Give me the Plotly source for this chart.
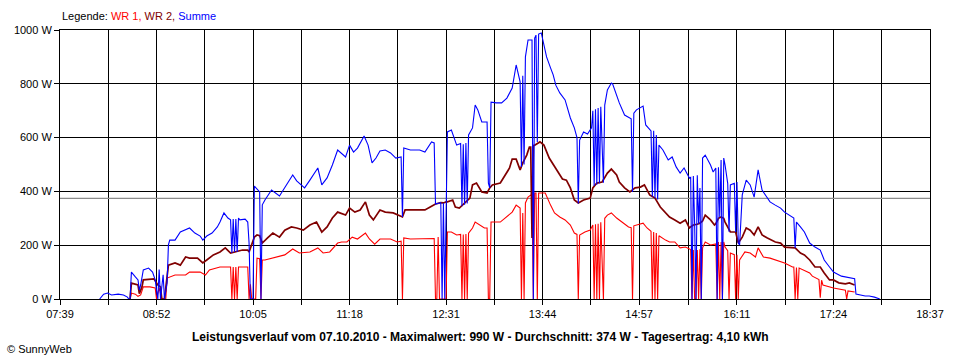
import plotly.graph_objects as go

# ---------------- data ----------------
tick_labels = ["07:39", "08:52", "10:05", "11:18", "12:31", "13:44", "14:57", "16:11", "17:24", "18:37"]
y_ticks = [0, 200, 400, 600, 800, 1000]
average_w = 374

wr1_times = [
    "08:32", "08:33", "08:36", "08:38", "08:40", "08:42", "08:47", "08:51",
    "08:52", "08:54", "08:56", "08:59", "09:00", "09:06", "09:14", "09:17",
    "09:25", "09:29", "09:32", "09:40", "09:48", "09:49", "09:50", "09:51",
    "09:52", "09:53", "09:54", "10:01", "10:02", "10:03", "10:04", "10:07",
    "10:08", "10:10", "10:11", "10:12", "10:14", "10:22", "10:29", "10:35",
    "10:40", "10:48", "10:54", "10:58", "11:03", "11:09", "11:12", "11:16",
    "11:20", "11:24", "11:30", "11:33", "11:37", "11:41", "11:49", "11:54",
    "11:57", "11:58", "11:59", "12:04", "12:19", "12:22", "12:23", "12:24",
    "12:25", "12:26", "12:31", "12:32", "12:35", "12:39", "12:42", "12:43",
    "12:44", "12:45", "12:46", "12:47", "12:48", "12:51", "12:53", "12:57",
    "13:00", "13:02", "13:03", "13:04", "13:05", "13:12", "13:17", "13:21",
    "13:24", "13:27", "13:28", "13:29", "13:30", "13:31", "13:33", "13:36",
    "13:37", "13:38", "13:39", "13:40", "13:41", "13:46", "13:50", "13:53",
    "13:57", "14:01", "14:05", "14:08", "14:10", "14:11", "14:12", "14:16",
    "14:20", "14:22", "14:23", "14:24", "14:25", "14:26", "14:27", "14:28",
    "14:30", "14:31", "14:33", "14:36", "14:40", "14:44", "14:49", "14:51",
    "14:52", "14:53", "15:00", "15:03", "15:06", "15:07", "15:08", "15:09",
    "15:10", "15:11", "15:12", "15:17", "15:20", "15:24", "15:28", "15:32",
    "15:36", "15:37", "15:38", "15:39", "15:40", "15:41", "15:42", "15:43",
    "15:44", "15:45", "15:47", "15:51", "15:55", "15:56", "15:57", "15:58",
    "15:59", "16:00", "16:01", "16:02", "16:04", "16:05", "16:06", "16:09",
    "16:10", "16:11", "16:12", "16:13", "16:17", "16:21", "16:25", "16:27",
    "16:31", "16:36", "16:44", "16:47", "16:53", "16:54", "16:55", "16:56",
    "16:57", "16:58", "17:06", "17:08", "17:13", "17:14", "17:15", "17:16",
    "17:24", "17:33", "17:34", "17:35", "17:40",
]
wr1_values = [
    0, 22, 18, 10, 15, 45, 45, 41,
    0, 41, 0, 0, 78, 89, 89, 100,
    100, 89, 108, 119, 119, 0, 119, 0,
    119, 0, 119, 119, 0, 55, 0, 0,
    152, 150, 0, 145, 145, 156, 164, 186,
    171, 175, 190, 171, 175, 208, 212, 212,
    230, 223, 245, 223, 204, 223, 223, 212,
    215, 0, 227, 223, 223, 225, 0, 0,
    230, 0, 0, 249, 249, 238, 240, 0,
    240, 0, 242, 0, 245, 264, 286, 275,
    264, 264, 0, 0, 286, 286, 305, 323,
    349, 338, 0, 320, 0, 357, 379, 390,
    0, 394, 394, 0, 394, 394, 349, 320,
    305, 294, 275, 245, 240, 0, 238, 249,
    256, 275, 0, 278, 0, 280, 0, 285,
    0, 300, 312, 320, 301, 286, 268, 265,
    0, 272, 282, 264, 252, 0, 249, 0,
    245, 0, 235, 219, 212, 212, 190, 193,
    184, 0, 182, 0, 0, 182, 0, 185,
    0, 190, 212, 201, 205, 0, 212, 0,
    212, 0, 212, 193, 180, 0, 171, 165,
    0, 164, 0, 145, 175, 171, 156, 190,
    156, 152, 138, 134, 119, 119, 0, 117,
    0, 115, 97, 85, 72, 5, 70, 52,
    41, 33, 0, 30, 26,
]

wr2_times = [
    "08:32", "08:33", "08:38", "08:39", "08:41", "08:42", "08:50", "08:53",
    "08:55", "08:56", "08:58", "08:59", "09:01", "09:06", "09:10", "09:14",
    "09:17", "09:23", "09:27", "09:30", "09:35", "09:40", "09:44", "09:48",
    "09:52", "09:57", "10:01", "10:02", "10:06", "10:08",
    "10:10", "10:12", "10:16", "10:20", "10:25", "10:29", "10:34",
    "10:38", "10:43", "10:48", "10:53", "10:57", "11:01", "11:05", "11:09",
    "11:15", "11:18", "11:22", "11:26", "11:30", "11:33", "11:36", "11:41",
    "11:45", "11:51", "11:55", "11:58", "12:00", "12:15", "12:19", "12:23",
    "12:27", "12:29", "12:31", "12:32", "12:36", "12:38",
    "12:41", "12:45", "12:49", "12:51", "12:54", "12:58", "13:02", "13:04",
    "13:06", "13:12", "13:15", "13:19", "13:21", "13:24", "13:27", "13:29",
    "13:32", "13:34", "13:35", "13:36", "13:37", "13:38", "13:42", "13:45",
    "13:49", "13:53", "13:57", "13:59", "14:02", "14:05", "14:08", "14:11",
    "14:15", "14:20", "14:22", "14:25", "14:29", "14:33", "14:36", "14:40",
    "14:42", "14:46", "14:50", "14:54", "14:58", "15:01", "15:05", "15:09",
    "15:13", "15:17", "15:20", "15:24", "15:28", "15:32", "15:35", "15:36",
    "15:38", "15:41", "15:43", "15:45", "15:47",
    "15:51", "15:54", "15:55", "15:57", "15:59", "16:01",
    "16:02", "16:06", "16:10", "16:12", "16:15", "16:18", "16:21", "16:24",
    "16:27", "16:30", "16:34", "16:40", "16:44", "16:47", "16:55", "16:59",
    "17:02", "17:06", "17:10", "17:14", "17:17", "17:21", "17:24", "17:28",
    "17:33", "17:36", "17:40",
]
wr2_values = [
    0, 59, 52, 20, 45, 71, 75, 52,
    45, 0, 0, 40, 126, 134, 126, 156,
    152, 152, 134, 145, 164, 175, 190, 171,
    175, 182, 182, 175, 230, 238,
    235, 208, 227, 245, 230, 256, 268,
    264, 256, 275, 286, 249, 268, 301, 323,
    312, 338, 323, 331, 361, 312, 294, 331,
    323, 320, 312, 305, 331, 331, 342, 353,
    358, 357, 361, 361, 368, 342,
    338, 357, 375, 424, 431, 398, 394, 413,
    424, 431, 453, 487, 520, 520, 480, 506,
    535, 565, 565, 227, 570, 572, 584, 572,
    524, 491, 461, 446, 442, 413, 368, 357,
    368, 375, 413, 431, 435, 468, 483, 461,
    435, 413, 398, 413, 416, 424, 387, 375,
    342, 323, 305, 294, 282, 294, 264, 268,
    275, 278, 282, 290, 312,
    294, 275, 280, 300, 305, 300,
    286, 249, 249, 208, 230, 264, 256, 238,
    268, 238, 227, 212, 208, 193, 190, 171,
    164, 145, 119, 119, 97, 71, 71, 60,
    56, 60, 52,
]

summe_times = [
    "08:09", "08:12", "08:15", "08:18", "08:23", "08:27", "08:30", "08:31",
    "08:32", "08:33", "08:36", "08:38", "08:39", "08:40", "08:42", "08:46",
    "08:49", "08:51", "08:52", "08:53", "08:54", "08:55", "08:57", "08:58",
    "09:00", "09:01", "09:02", "09:06", "09:10", "09:14", "09:17", "09:21",
    "09:25", "09:27", "09:30", "09:34", "09:38", "09:40", "09:43", "09:46",
    "09:48", "09:49", "09:50", "09:51", "09:52", "09:53", "09:54", "09:55",
    "09:59", "10:01", "10:02", "10:03", "10:05", "10:06", "10:08", "10:10",
    "10:11", "10:12", "10:14", "10:19", "10:25", "10:29", "10:35", "10:38",
    "10:44", "10:48", "10:54", "10:57", "11:01", "11:05", "11:09", "11:15",
    "11:18", "11:21", "11:24", "11:29", "11:32", "11:35", "11:38", "11:41",
    "11:45", "11:49", "11:53", "11:57", "11:58", "11:59", "12:04", "12:11",
    "12:15", "12:20", "12:22", "12:23", "12:27", "12:28", "12:29", "12:30",
    "12:31", "12:32", "12:35", "12:39", "12:42", "12:43", "12:44", "12:45",
    "12:46", "12:47", "12:48", "12:51", "12:53", "12:55", "12:58", "13:02",
    "13:03", "13:04", "13:05", "13:09", "13:13", "13:17", "13:21", "13:23",
    "13:24", "13:27", "13:28", "13:29", "13:30", "13:31", "13:33", "13:36",
    "13:37", "13:38", "13:39", "13:40", "13:41", "13:43", "13:47", "13:50",
    "13:52", "13:54", "13:57", "14:01", "14:05", "14:08", "14:10", "14:11",
    "14:12", "14:15", "14:18", "14:21", "14:22", "14:23", "14:24", "14:25",
    "14:26", "14:27", "14:28", "14:30", "14:31", "14:33", "14:36", "14:37",
    "14:40", "14:42", "14:46", "14:50", "14:51", "14:52", "14:53", "14:55",
    "14:58", "15:00", "15:02", "15:05", "15:06", "15:07", "15:08", "15:09",
    "15:10", "15:11", "15:12", "15:15", "15:19", "15:22", "15:25", "15:28",
    "15:31", "15:35", "15:36", "15:37", "15:38", "15:39", "15:40", "15:41",
    "15:42", "15:43", "15:44", "15:45", "15:47", "15:51", "15:53", "15:55",
    "15:56", "15:57", "15:58", "15:59", "16:00", "16:01", "16:02", "16:04",
    "16:05", "16:06", "16:09", "16:10", "16:11", "16:12", "16:13", "16:15",
    "16:18", "16:21", "16:24", "16:27", "16:30", "16:33", "16:36", "16:40",
    "16:44", "16:47", "16:51", "16:54", "16:55", "16:56", "16:59", "17:02",
    "17:06", "17:10", "17:14", "17:17", "17:21", "17:24", "17:30", "17:36",
    "17:40", "17:41", "17:48", "17:51", "17:55", "17:59",
]
summe_values = [
    0, 18, 22, 15, 18, 15, 7, 0,
    0, 100, 82, 71, 33, 52, 108, 115,
    100, 71, 33, 0, 110, 0, 90, 0,
    60, 201, 219, 219, 249, 256, 264, 245,
    234, 219, 234, 245, 268, 286, 320, 301,
    294, 171, 297, 175, 297, 175, 301, 294,
    297, 286, 208, 0, 0, 420, 410, 398,
    0, 350, 368, 405, 383, 413, 461, 439,
    413, 442, 487, 424, 450, 498, 554, 528,
    572, 546, 561, 606, 572, 506, 524, 550,
    554, 543, 524, 528, 305, 561, 554, 554,
    546, 584, 580, 353, 358, 0, 357, 0,
    361, 621, 628, 572, 578, 345, 575, 350,
    580, 355, 610, 636, 721, 703, 658, 658,
    431, 413, 732, 729, 729, 747, 784, 840,
    870, 807, 491, 830, 500, 900, 963, 963,
    0, 970, 981, 584, 985, 989, 900, 859,
    833, 795, 766, 740, 673, 636, 600, 355,
    591, 621, 613, 636, 700, 420, 705, 425,
    710, 430, 715, 432, 721, 777, 803, 799,
    755, 729, 684, 673, 670, 398, 691, 703,
    710, 717, 647, 628, 625, 380, 625, 375,
    610, 370, 572, 554, 517, 528, 491, 468,
    487, 450, 452, 0, 457, 275, 0, 460,
    280, 413, 0, 524, 535, 498, 472, 487,
    0, 490, 305, 517, 0, 524, 498, 430,
    250, 424, 430, 249, 435, 208, 201, 387,
    442, 424, 379, 480, 405, 383, 361, 349,
    338, 323, 312, 301, 190, 286, 268, 249,
    208, 193, 182, 145, 119, 100, 85, 80,
    75, 18, 11, 11, 7, 0,
]

for name, t, v in (("wr1", wr1_times, wr1_values), ("wr2", wr2_times, wr2_values),
                   ("summe", summe_times, summe_values)):
    assert len(t) == len(v), (name, len(t), len(v))


def to_min(s):
    h, m = s.split(":")
    return int(h) * 60 + int(m)


# ---------------- axes ----------------
major = [to_min(s) for s in tick_labels]
tickvals, ticktext = [], []
for i, (m, lab) in enumerate(zip(major, tick_labels)):
    tickvals.append(m)
    ticktext.append(lab)
    if i < len(major) - 1:
        tickvals.append((m + major[i + 1]) / 2)
        ticktext.append("")
x_range = [major[0], major[-1]]

FONT = "Liberation Sans, Arial, sans-serif"

fig = go.Figure()
fig.add_trace(go.Scatter(x=x_range, y=[average_w, average_w], mode="lines",
                         line=dict(color="#8c8c8c", width=1.2), hoverinfo="skip"))
fig.add_trace(go.Scatter(x=[to_min(s) for s in wr1_times], y=wr1_values, mode="lines",
                         name="WR 1", line=dict(color="#ff0000", width=1.1)))
fig.add_trace(go.Scatter(x=[to_min(s) for s in wr2_times], y=wr2_values, mode="lines",
                         name="WR 2", line=dict(color="#800000", width=1.7)))
fig.add_trace(go.Scatter(x=[to_min(s) for s in summe_times], y=summe_values, mode="lines",
                         name="Summe", line=dict(color="#0000ff", width=1.1)))

fig.update_layout(
    width=960, height=360,
    margin=dict(l=60, r=30, t=30, b=61),
    paper_bgcolor="white", plot_bgcolor="white",
    showlegend=False,
    font=dict(family=FONT, size=11, color="black"),
    xaxis=dict(range=x_range, tickmode="array", tickvals=tickvals, ticktext=ticktext,
               showgrid=True, gridcolor="black", gridwidth=1,
               showline=True, linecolor="black", linewidth=1, mirror=True,
               ticks="outside", ticklen=5, tickcolor="black", zeroline=False,
               tickfont=dict(family=FONT, size=11)),
    yaxis=dict(range=[0, 1000], tickmode="array", tickvals=y_ticks,
               ticktext=[f"{v} W" for v in y_ticks],
               showgrid=True, gridcolor="black", gridwidth=1,
               showline=True, linecolor="black", linewidth=1, mirror=True,
               ticks="outside", ticklen=5, tickcolor="black", zeroline=False,
               tickfont=dict(family=FONT, size=11)),
)

fig.add_annotation(
    xref="paper", yref="paper", x=0, y=1 + 14 / 269, xanchor="left", yanchor="middle",
    showarrow=False, font=dict(family=FONT, size=11),
    text="Legende: <span style='color:#ff0000'>WR 1, </span>"
         "<span style='color:#800000'>WR 2, </span>"
         "<span style='color:#0000ff'>Summe</span>",
)
fig.add_annotation(
    xref="paper", yref="paper", x=(480 - 60) / 870, y=-38 / 269,
    xanchor="center", yanchor="middle", showarrow=False,
    font=dict(family=FONT, size=12),
    text="<b>Leistungsverlauf vom 07.10.2010 - Maximalwert: 990 W - "
         "Durchschnitt: 374 W - Tagesertrag: 4,10 kWh</b>",
)
fig.add_annotation(
    xref="paper", yref="paper", x=-55 / 870, y=-50 / 269,
    xanchor="left", yanchor="middle", showarrow=False,
    font=dict(family=FONT, size=11), text="© SunnyWeb",
)

fig.write_html("out.html", config={"displayModeBar": False},
               post_script="document.body.style.margin='0';")
